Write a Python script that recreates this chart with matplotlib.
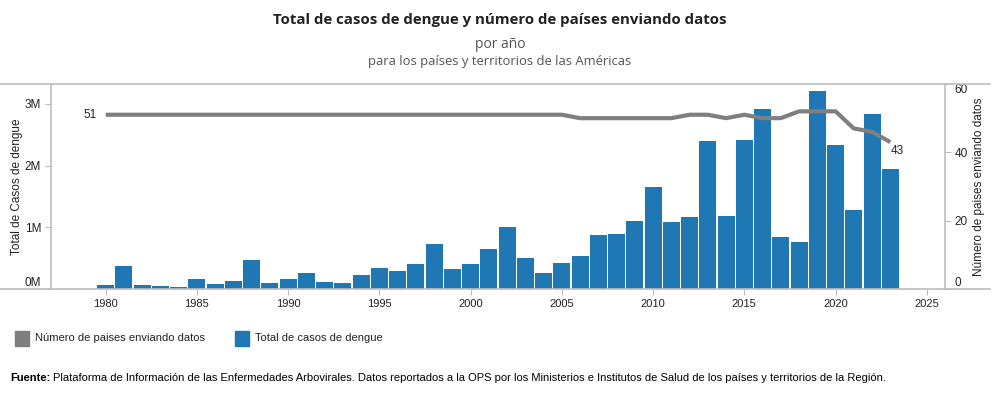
import matplotlib
matplotlib.use('Agg')
import matplotlib.pyplot as plt
from matplotlib.lines import Line2D
from matplotlib.patches import Rectangle

# dengue data
years = list(range(1980, 2024))
cases_m = [0.065, 0.37, 0.065, 0.043, 0.032, 0.16, 0.08, 0.13, 0.47, 0.097,
           0.16, 0.26, 0.11, 0.097, 0.23, 0.34, 0.29, 0.40, 0.73, 0.32,
           0.40, 0.65, 1.00, 0.50, 0.26, 0.42, 0.53, 0.87, 0.89, 1.10,
           1.65, 1.08, 1.16, 2.39, 1.18, 2.42, 2.91, 0.84, 0.76, 3.20,
           2.34, 1.28, 2.83, 1.95]
countries = [51] * 26 + [50, 50, 50, 50, 50, 50, 51, 51, 50, 51,
                         50, 50, 52, 52, 52, 47, 46, 43]
x_ticks = [1980, 1985, 1990, 1995, 2000, 2005, 2010, 2015, 2020, 2025]

blue = '#1f77b4'
grey = '#7f7f7f'
axis_col = '#bdbdbd'
txt = '#222222'
font = 'Liberation Sans'

fig = plt.figure(figsize=(10, 4), dpi=100)
ax = fig.add_axes([0.051, 0.2775, 0.894, 0.5125])
ax2 = ax.twinx()

ax.bar(years, [c * 1e6 for c in cases_m], width=0.93, color=blue, zorder=2)
ax2.plot(years, countries, color=grey, lw=3, solid_capstyle='butt', zorder=3)

ax.set_xlim(1977, 2026)
ax.set_ylim(0, 3.32e6)
ax2.set_ylim(0, 60)

ax.set_xticks(x_ticks)
ax.set_xticklabels([str(y) for y in x_ticks], fontsize=8, family=font, color=txt)
ax.set_yticks([0, 1e6, 2e6, 3e6])
ax.set_yticklabels(['0M', '1M', '2M', '3M'], fontsize=8.5, family=font, color=txt)
ax2.set_yticks([0, 20, 40, 60])
ax2.set_yticklabels(['0', '20', '40', '60'], fontsize=8.5, family=font, color=txt)
ax.get_yticklabels()[0].set_va('bottom')
ax2.get_yticklabels()[0].set_va('bottom')
ax2.get_yticklabels()[-1].set_va('top')

for a in (ax, ax2):
    for s in a.spines.values():
        s.set_visible(False)
    a.tick_params(length=4, width=0.8, color=axis_col, pad=3)

ax.set_ylabel('Total de Casos de dengue', fontsize=8.5, family=font, color=txt)
ax.yaxis.set_label_coords(-0.031, 0.5)
ax2.set_ylabel('Número de paises enviando datos', fontsize=8.5, family=font, color=txt)
ax2.yaxis.set_label_coords(1.031, 0.5)

ax2.text(years[0] - 0.5, countries[0], str(countries[0]), ha='right', va='center',
         fontsize=8.5, family=font, color=txt)
ax2.text(years[-1], countries[-1] - 1.0, str(countries[-1]), ha='left', va='top',
         fontsize=8.5, family=font, color=txt)

# frame lines as in the original layout
for yy in (0.79, 0.2775):
    fig.add_artist(Line2D([0, 0.99], [yy, yy], color=axis_col, lw=1.2))
for xx in (0.051, 0.945):
    fig.add_artist(Line2D([xx, xx], [0.2775, 0.79], color=axis_col, lw=1.2))

fig.text(0.5, 0.95, 'Total de casos de dengue y número de países enviando datos',
         ha='center', va='center', fontsize=10.8, fontweight='bold', family='Open Sans', color=txt)
fig.text(0.5, 0.889, 'por año', ha='center', va='center', fontsize=10,
         family='Open Sans', color='#555555')
fig.text(0.5, 0.845, 'para los países y territorios de las Américas', ha='center', va='center',
         fontsize=9.4, family='Open Sans', color='#555555')

# legend
fig.add_artist(Rectangle((0.015, 0.135), 0.014, 0.037, color=grey, transform=fig.transFigure))
fig.text(0.035, 0.155, 'Número de paises enviando datos', va='center', fontsize=8,
         family=font, color=txt)
fig.add_artist(Rectangle((0.235, 0.135), 0.014, 0.037, color=blue, transform=fig.transFigure))
fig.text(0.255, 0.155, 'Total de casos de dengue', va='center', fontsize=8,
         family=font, color=txt)

t = fig.text(0.01, 0.055, 'Fuente:', va='center', fontsize=8, fontweight='bold',
             family=font, color='black')
fig.canvas.draw()
bb = t.get_window_extent()
fig.text(bb.x1 / 1000 + 0.003, 0.055,
         'Plataforma de Información de las Enfermedades Arbovirales. Datos reportados a la OPS por los '
         'Ministerios e Institutos de Salud de los países y territorios de la Región.',
         va='center', fontsize=8, family=font, color='black')

fig.savefig('out.png', dpi=100)
